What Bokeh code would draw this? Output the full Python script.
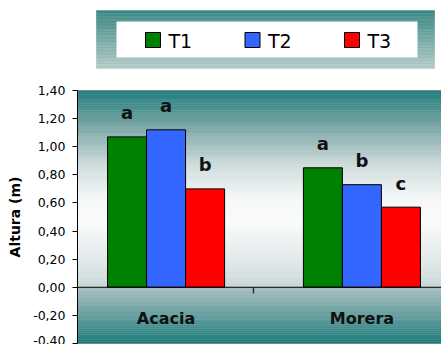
import numpy as np
from bokeh.plotting import figure
from bokeh.layouts import column
from bokeh.models import Range1d, FixedTicker, Span
from bokeh.core.properties import value
from bokeh.embed import file_html
from bokeh.resources import INLINE

# ---- data ----
categories = ["Acacia", "Morera"]
series = ["T1", "T2", "T3"]
t1 = [1.07, 0.85]
t2 = [1.12, 0.73]
t3 = [0.70, 0.57]
letters_t1 = ["a", "a"]
letters_t2 = ["a", "b"]
letters_t3 = ["b", "c"]
tick_values = [-0.4, -0.2, 0.0, 0.2, 0.4, 0.6, 0.8, 1.0, 1.2, 1.4]
tick_labels = ["-0,40", "-0,20", "0,00", "0,20", "0,40", "0,60", "0,80", "1,00", "1,20", "1,40"]
y_label = "Altura (m)"

# ---- styles / layout ----
colors = ["#008000", "#3366ff", "#ff0000"]
FONT = "DejaVu Sans"
LEFT = 77                    # width of the left border (axis area), px
X_END = 9.33                 # frame width in bar widths
group_left = [0.77, 5.79]    # left edge of each bar group
boundary = 4.51              # category separator tick
Y0, Y1 = -0.4, 1.4


def lerp_color(stops, t):
    """stops: list of (pos, hex) with pos ascending; t in [0,1]"""
    for (p0, c0), (p1, c1) in zip(stops[:-1], stops[1:]):
        if p0 <= t <= p1:
            f = 0 if p1 == p0 else (t - p0) / (p1 - p0)
            a = np.array([int(c0[i:i + 2], 16) for i in (1, 3, 5)])
            b = np.array([int(c1[i:i + 2], 16) for i in (1, 3, 5)])
            r = np.round(a + (b - a) * f).astype(int)
            return "#%02x%02x%02x" % tuple(r)
    return stops[-1][1]


def gradient(p, x0, x1, y_bottom, y_top, stops, n):
    """horizontal bands; stops are positioned from bottom (0) to top (1)"""
    edges = np.linspace(y_bottom, y_top, n + 1)
    cols = [lerp_color(stops, (i + 0.5) / n) for i in range(n)]
    p.quad(left=x0, right=x1, bottom=edges[:-1], top=edges[1:],
           fill_color=cols, line_color=cols, line_width=0.5)


# ---- legend panel (frame aligned with the chart frame below) ----
leg = figure(width=441, height=78, x_range=Range1d(LEFT, 441), y_range=Range1d(78, 0),
             toolbar_location=None, output_backend="svg",
             x_axis_location=None, y_axis_location=None,
             min_border_left=LEFT, min_border_right=0, min_border_top=0, min_border_bottom=0,
             outline_line_color=None)
leg.grid.visible = False
gradient(leg, 96, 434, 68, 10, [(0, "#b6cbc9"), (1, "#3a8783")], 40)
leg.quad(left=116, right=417, bottom=57, top=21, fill_color="white", line_color=None)
item_x = [145 + 99.5 * i for i in range(len(series))]
leg.quad(left=item_x, right=[x + 15 for x in item_x], top=[32] * 3, bottom=[47] * 3,
         fill_color=colors, line_color="black", line_width=1)
leg.text(x=[x + 23 for x in item_x], y=[40] * 3, text=series,
         text_font=value(FONT), text_font_size="19px", text_color="black",
         text_baseline="middle", text_align="left")

# ---- chart ----
p = figure(width=441, height=266, x_range=Range1d(0, X_END), y_range=Range1d(Y0, Y1),
           toolbar_location=None, output_backend="svg", x_axis_location=None,
           min_border_left=LEFT, min_border_right=0, min_border_top=12, min_border_bottom=1,
           outline_line_color="#a0a0a0", background_fill_color="white")
p.grid.visible = False

# plot-area shading
gradient(p, 0, X_END, 0, Y1,
         [(0, "#cad7d7"), (0.12, "#dfe7e7"), (0.33, "#fafbfb"), (0.45, "#f6f8f8"),
          (0.62, "#cfdddc"), (0.8, "#82abaa"), (1, "#217d7d")], 90)
gradient(p, 0, X_END, Y0, 0, [(0, "#1d7a7a"), (1, "#a9c1c1")], 30)

values = [t1, t2, t3]
letters = [letters_t1, letters_t2, letters_t3]
for j in range(len(series)):
    xs = [group_left[g] + j + 0.5 for g in range(len(categories))]
    p.vbar(x=xs, width=1.0, top=values[j], bottom=0,
           fill_color=colors[j], line_color="black", line_width=1)
    p.text(x=xs, y=values[j], text=letters[j], y_offset=-24,
           text_font=value(FONT), text_font_style="bold", text_font_size="18px",
           text_color="#111111", text_align="center", text_baseline="alphabetic")

p.add_layout(Span(location=0, dimension="width", line_color="black", line_width=1))
p.segment(x0=[boundary], y0=[0], x1=[boundary], y1=[-0.045],
          line_color="#333333", line_width=1.5)

centers = [group_left[g] + len(series) / 2 for g in range(len(categories))]
p.text(x=centers, y=[-0.22] * len(categories), text=categories,
       text_font=value(FONT), text_font_style="bold", text_font_size="16px",
       text_color="#111111", text_align="center", text_baseline="middle")

ax = p.yaxis[0]
ax.ticker = FixedTicker(ticks=tick_values)
ax.major_label_overrides = dict(zip(tick_values, tick_labels))
ax.axis_line_color = "black"
ax.major_tick_out = 5
ax.major_tick_in = 0
ax.minor_tick_line_color = None
ax.major_label_standoff = 7
ax.major_label_text_font = FONT
ax.major_label_text_font_size = "12.5px"
ax.major_label_text_color = "black"
ax.axis_label = y_label
ax.axis_label_standoff = 7
ax.axis_label_text_font = FONT
ax.axis_label_text_font_style = "bold"
ax.axis_label_text_font_size = "14px"
ax.axis_label_text_color = "black"

layout = column(leg, p, spacing=0)
open("out.html", "w").write(file_html(layout, INLINE))
